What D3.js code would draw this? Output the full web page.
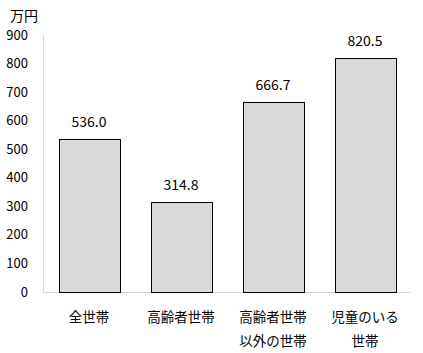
<!DOCTYPE html>
<html><head><meta charset="utf-8">
<script src="https://cdn.jsdelivr.net/npm/d3@7"></script>
<style>body{margin:0;background:#fff}</style>
</head><body>
<svg id="c" width="423" height="353"></svg>
<script>
const categories = [["全世帯"], ["高齢者世帯"], ["高齢者世帯", "以外の世帯"], ["児童のいる", "世帯"]];
const values = [536.0, 314.8, 666.7, 820.5];
const yTicks = [0, 100, 200, 300, 400, 500, 600, 700, 800, 900];
const unitLabel = "万円";

(function() {
const svg = d3.select("#c");
const font = "'Noto Sans CJK JP', 'Noto Sans', sans-serif";
const mLeft = 43, mRight = 411, mTop = 35, mBottom = 292;
const x = d3.scaleBand().domain(d3.range(categories.length)).range([mLeft, mRight]).paddingInner(0.337).paddingOuter(0.1685);
const y = d3.scaleLinear().domain([0, 900]).range([mBottom, mTop]);

svg.append("line").attr("x1", mLeft + 0.5).attr("x2", mLeft + 0.5).attr("y1", mTop).attr("y2", mBottom).attr("stroke", "#d9d9d9");
svg.append("line").attr("x1", mLeft).attr("x2", mRight).attr("y1", mBottom + 0.5).attr("y2", mBottom + 0.5).attr("stroke", "#d9d9d9");

svg.append("g").selectAll("text").data(yTicks).join("text")
  .attr("x", 28).attr("y", d => y(d)).attr("dy", "0.35em").attr("text-anchor", "end")
  .attr("font-family", font).attr("font-size", 13).attr("fill", "#000").text(d => d);

svg.append("text").attr("x", 10).attr("y", 21).attr("font-family", font).attr("font-size", 14).text(unitLabel);

svg.append("g").selectAll("rect").data(values).join("rect")
  .attr("x", (d, i) => Math.round(x(i)) + 0.5).attr("y", d => Math.round(y(d)) + 0.5)
  .attr("width", Math.round(x.bandwidth())).attr("height", d => mBottom - Math.round(y(d)))
  .attr("fill", "#d9d9d9").attr("stroke", "#000").attr("stroke-width", 1);

svg.append("g").selectAll("text").data(values).join("text")
  .attr("x", (d, i) => x(i) + x.bandwidth() / 2).attr("y", d => y(d) - 12)
  .attr("text-anchor", "middle").attr("font-family", font).attr("font-size", 14)
  .text(d => d.toFixed(1));

const cg = svg.append("g").selectAll("text").data(categories).join("text")
  .attr("text-anchor", "middle").attr("font-family", font).attr("font-size", 13.5);
cg.each(function(d, i) {
  d3.select(this).selectAll("tspan").data(d).join("tspan")
    .attr("x", x(i) + x.bandwidth() / 2).attr("y", (t, j) => 322 + j * 24).text(t => t);
});
})();
</script>
</body></html>
